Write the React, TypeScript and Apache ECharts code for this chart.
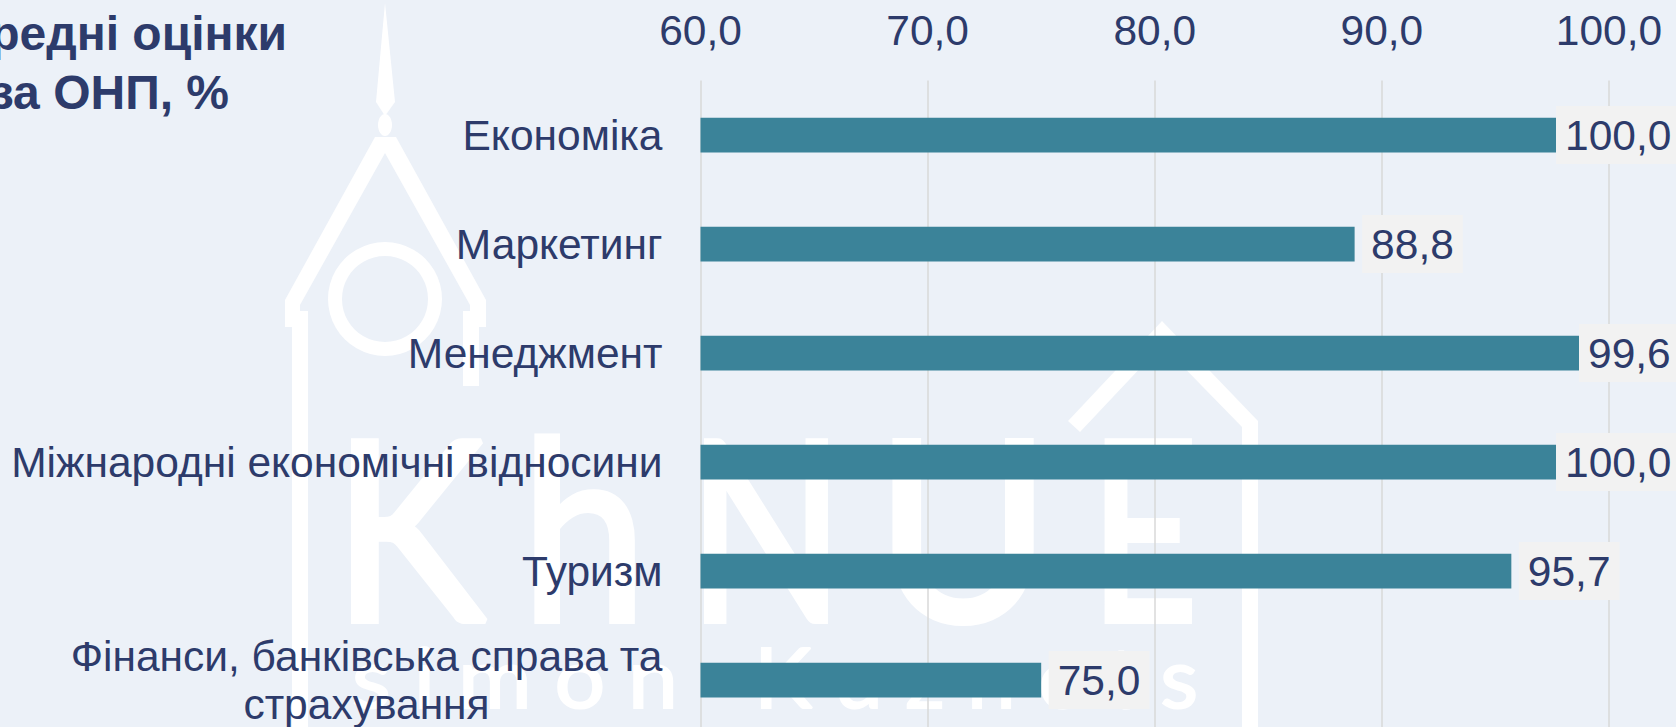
import React, { useEffect, useRef } from "react";
import * as echarts from "echarts";

const categories = [
  "Економіка",
  "Маркетинг",
  "Менеджмент",
  "Міжнародні економічні відносини",
  "Туризм",
  "Фінанси, банківська справа та\nстрахування",
];
// Bar lengths as drawn against the axis in the picture.
const barValues = [97.67, 88.8, 98.68, 97.67, 95.7, 75.0];
// Value labels as printed in the picture.
const valueLabels = ["100,0", "88,8", "99,6", "100,0", "95,7", "75,0"];
const axisMin = 60;
const axisMax = 100;
const axisStep = 10;

const TEXT = "#2D3B6B";
const FONT = '"Liberation Sans", Arial, sans-serif';
const WM = "#FFFFFF";
const FS = 42.5;

const wmGlyph = (text: string, x: number, y: number, fontSize: number, scaleX: number, lineWidth: number) => ({
  type: "text",
  z: -1,
  x,
  y,
  scaleX,
  silent: true,
  style: {
    text,
    fill: WM,
    stroke: WM,
    lineWidth,
    fontSize,
    fontFamily: "Lato",
    textAlign: "center",
    textVerticalAlign: "middle",
  },
});

const wmPoly = (points: number[][]) => ({
  type: "polygon",
  z: -1,
  silent: true,
  shape: { points },
  style: { fill: WM },
});

const watermark = [
  wmPoly([[385, 3], [376, 102], [385, 116], [395, 102]]),
  { type: "ellipse", z: -1, silent: true, shape: { cx: 385, cy: 125, rx: 7, ry: 11 }, style: { fill: WM } },
  wmPoly([
    [375, 137], [396, 137], [486, 300], [486, 327], [479, 327], [479, 386], [463, 386], [463, 311],
    [470, 311], [470, 305], [385, 153], [300, 305], [300, 311], [308, 311], [308, 727], [292, 727],
    [292, 327], [285, 327], [285, 300],
  ]),
  { type: "ring", z: -1, silent: true, shape: { cx: 385, cy: 299, r: 57, r0: 43 }, style: { fill: WM } },
  wmPoly([[1162, 321], [1258, 421], [1258, 727], [1242, 727], [1242, 427], [1162, 345], [1080, 432], [1068, 421]]),
  wmGlyph("K", 409, 524, 250, 0.92, 6),
  wmGlyph("h", 584, 524, 250, 0.9, 6),
  wmGlyph("N", 766, 524, 250, 0.82, 6),
  wmGlyph("U", 963, 524, 250, 0.95, 6),
  wmGlyph("E", 1144, 524, 250, 0.75, 6),
  wmGlyph("s i m o n", 515, 675, 84, 1.065, 2),
  wmGlyph("K u z n e t s", 976, 675, 84, 1.04, 2),
];

const titleLine = (text: string, x: number, y: number) => ({
  type: "text",
  x,
  y,
  style: {
    text,
    fill: TEXT,
    fontSize: 48,
    fontWeight: "bold",
    fontFamily: FONT,
    textAlign: "right",
    textVerticalAlign: "middle",
  },
});

export default function App() {
  const ref = useRef<HTMLDivElement>(null);

  useEffect(() => {
    document.body.style.margin = "0";
    document.body.style.overflow = "hidden";
    const chart = echarts.init(ref.current!, null, { renderer: "svg" });
    chart.setOption({
      animation: false,
      backgroundColor: "#ECF1F8",
      graphic: [...watermark, titleLine("Середні оцінки", 287, 33), titleLine("за ОНП, %", 229, 92)],
      grid: { left: 700.5, top: 80.6, width: 908.5, height: 654, containLabel: false },
      xAxis: {
        type: "value",
        position: "top",
        min: axisMin,
        max: axisMax,
        interval: axisStep,
        axisLine: { show: false },
        axisTick: { show: false },
        splitLine: { show: true, lineStyle: { color: "#D9D9D9", width: 1.5 } },
        axisLabel: {
          margin: 29,
          color: TEXT,
          fontSize: FS,
          fontFamily: FONT,
          formatter: (v: number) => v.toFixed(1).replace(".", ","),
        },
      },
      yAxis: {
        type: "category",
        inverse: true,
        data: categories,
        axisLine: { show: false },
        axisTick: { show: false },
        splitLine: { show: false },
        axisLabel: {
          margin: 38,
          color: TEXT,
          fontSize: FS,
          fontFamily: FONT,
          formatter: (v: string) =>
            v.includes("\n")
              ? v.split("\n").map((s) => `{c|${s}}`).join("\n")
              : v,
          rich: {
            c: {
              width: 592,
              align: "center",
              color: TEXT,
              fontSize: FS,
              fontFamily: FONT,
              lineHeight: 48,
            },
          },
        },
      },
      series: [
        {
          type: "bar",
          barWidth: 34.7,
          itemStyle: { color: "#3B8399" },
          data: barValues.map((value) => ({
            value,
            label: { distance: value > 97 ? 0 : 7.5 },
          })),
          label: {
            show: true,
            position: "right",
            color: TEXT,
            fontSize: FS,
            fontFamily: FONT,
            backgroundColor: "#F2F2F2",
            padding: [6, 9],
            lineHeight: 46,
            formatter: (p: any) => valueLabels[p.dataIndex],
          },
        },
      ],
    });
    return () => chart.dispose();
  }, []);

  return (
    <div style={{ width: 1676, height: 727, overflow: "hidden" }}>
      <div ref={ref} style={{ width: 1676, height: 800 }} />
    </div>
  );
}
